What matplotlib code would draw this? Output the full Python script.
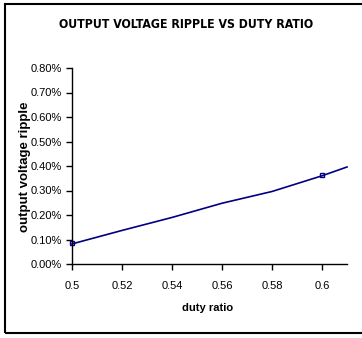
import matplotlib
matplotlib.use("Agg")
import matplotlib.pyplot as plt
from matplotlib.ticker import FuncFormatter
from matplotlib.patches import Rectangle

# data
duty_curve = [0.5, 0.52, 0.54, 0.56, 0.58, 0.6, 0.61]
ripple_curve = [0.00082, 0.00137, 0.0019, 0.00248, 0.00296, 0.0036, 0.00396]
duty_points = [0.5, 0.6]
ripple_points = [0.00085, 0.00363]
x_ticks = [0.5, 0.52, 0.54, 0.56, 0.58, 0.6]
x_tick_labels = ["0.5", "0.52", "0.54", "0.56", "0.58", "0.6"]
y_ticks = [0.0, 0.001, 0.002, 0.003, 0.004, 0.005, 0.006, 0.007, 0.008]

plt.rcParams['font.family'] = ['Liberation Sans', 'DejaVu Sans']

fig = plt.figure(figsize=(3.62, 3.38), dpi=100)
fig.patches.append(Rectangle((5/362, 1-333/338), 1.2, (333-4)/338, transform=fig.transFigure,
                             fill=False, edgecolor='black', linewidth=1.5))
ax = fig.add_axes([72/362, 1-264/338, 275/362, 196/338])

ax.plot(duty_curve, ripple_curve, color='#000080', linewidth=1.2, clip_on=False)
ax.plot(duty_points, ripple_points, linestyle='none', marker='s', markersize=3.5,
        markerfacecolor='none', markeredgecolor='#000080', markeredgewidth=1, clip_on=False)

ax.set_xlim(0.5, 0.61)
ax.set_ylim(0, 0.008)
ax.set_xticks(x_ticks)
ax.set_xticklabels(x_tick_labels)
ax.set_yticks(y_ticks)
ax.yaxis.set_major_formatter(FuncFormatter(lambda v, p: f"{v*100:.2f}%"))
ax.tick_params(axis='both', labelsize=8, direction='out', length=4, width=1, colors='black')
ax.tick_params(axis='x', pad=8)
ax.tick_params(axis='y', pad=3)
for s in ['top', 'right']:
    ax.spines[s].set_visible(False)
for s in ['left', 'bottom']:
    ax.spines[s].set_linewidth(1)

ax.set_xlabel("duty ratio", fontsize=8, fontweight='bold')
ax.xaxis.set_label_coords((208-72)/275, -(308-264)/196)
ax.xaxis.label.set_va('center')
ax.set_ylabel("output voltage ripple", fontsize=9.5, fontweight='bold')
ax.yaxis.set_label_coords((25-72)/275, (264-167)/196)
ax.yaxis.label.set_va('center')
fig.text(186/362, 1-25/338, "OUTPUT VOLTAGE RIPPLE VS DUTY RATIO", ha='center', va='center',
         fontsize=8.8, fontweight='bold', family='DejaVu Sans', fontstretch='condensed')

fig.savefig("out.png", dpi=100)
